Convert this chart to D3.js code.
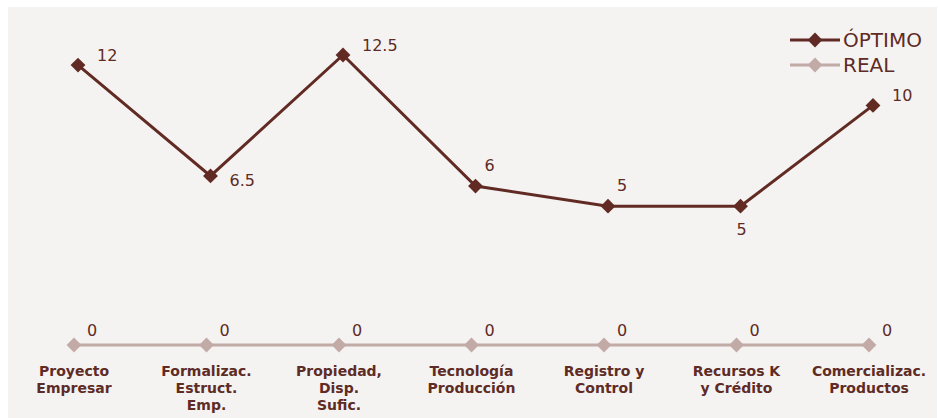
<!DOCTYPE html>
<html>
<head>
<meta charset="utf-8">
<script src="https://cdn.jsdelivr.net/npm/d3@7"></script>
<style>
  body { margin: 0; background: #ffffff; }
  svg text { font-family: "DejaVu Sans", Verdana, sans-serif; }
</style>
</head>
<body>
<div id="chart"></div>
<script>
// data
var categories = [
    ["Proyecto", "Empresar"],
    ["Formalizac.", "Estruct.", "Emp."],
    ["Propiedad,", "Disp.", "Sufic."],
    ["Tecnología", "Producción"],
    ["Registro y", "Control"],
    ["Recursos K", "y Crédito"],
    ["Comercializac.", "Productos"]
];
var optimo = [12, 6.5, 12.5, 6, 5, 5, 10];
var real = [0, 0, 0, 0, 0, 0, 0];
// where the optimo value labels sit (as in the original)
var optimoLabelSide = ["right", "right", "right", "above", "above", "below", "right"];

var W = 938, H = 418;
var dark = "#612b24", light = "#c2aba6", textCol = "#5e2b25";

var svg = d3.select("#chart").append("svg")
    .attr("width", W)
    .attr("height", H);

// plot background
svg.append("rect")
    .attr("x", 8).attr("y", 7)
    .attr("width", 929).attr("height", H - 7)
    .attr("fill", "#f5f3f2");

var idx = d3.range(categories.length);

var x = d3.scalePoint()
    .domain(idx)
    .range([74, 869]);

// primary axis for ÓPTIMO, secondary for REAL (they do not share zero)
var y = d3.scaleLinear().domain([0, 12.5]).range([307, 55]);
var y2 = d3.scaleLinear().domain([0, 1]).range([345, 305]);

var diamond = d3.symbol().type(d3.symbolDiamond2).size(140);

// REAL series
svg.append("path")
    .datum(real)
    .attr("fill", "none")
    .attr("stroke", light)
    .attr("stroke-width", 3)
    .attr("d", d3.line().x(function(d, i) { return x(i); }).y(function(d) { return y2(d); }));

svg.selectAll(".real-pt")
    .data(real)
    .enter().append("path")
    .attr("class", "real-pt")
    .attr("d", diamond)
    .attr("fill", light)
    .attr("transform", function(d, i) { return "translate(" + x(i) + "," + y2(d) + ")"; });

svg.selectAll(".real-lbl")
    .data(real)
    .enter().append("text")
    .attr("class", "real-lbl")
    .attr("x", function(d, i) { return x(i) + 18; })
    .attr("y", function(d) { return y2(d) - 9; })
    .attr("text-anchor", "middle")
    .attr("font-size", 16)
    .attr("fill", textCol)
    .text(function(d) { return d; });

// ÓPTIMO series
var ox = function(i) { return x(i) + 4; };

svg.append("path")
    .datum(optimo)
    .attr("fill", "none")
    .attr("stroke", dark)
    .attr("stroke-width", 3)
    .attr("d", d3.line().x(function(d, i) { return ox(i); }).y(function(d) { return y(d); }));

svg.selectAll(".opt-pt")
    .data(optimo)
    .enter().append("path")
    .attr("class", "opt-pt")
    .attr("d", diamond)
    .attr("fill", dark)
    .attr("transform", function(d, i) { return "translate(" + ox(i) + "," + y(d) + ")"; });

svg.selectAll(".opt-lbl")
    .data(optimo)
    .enter().append("text")
    .attr("class", "opt-lbl")
    .attr("x", function(d, i) {
        var s = optimoLabelSide[i];
        if (s == "right") return ox(i) + 19;
        if (s == "below") return ox(i) + 1;
        return ox(i) + 14;
    })
    .attr("y", function(d, i) {
        var s = optimoLabelSide[i];
        if (s == "above") return y(d) - 15;
        if (s == "below") return y(d) + 29;
        return y(d) + (d < 8 ? 10 : -4);
    })
    .attr("text-anchor", function(d, i) { return optimoLabelSide[i] == "right" ? "start" : "middle"; })
    .attr("font-size", 16)
    .attr("fill", textCol)
    .text(function(d) { return d; });

// category labels
var cat = svg.selectAll(".cat")
    .data(categories)
    .enter().append("text")
    .attr("class", "cat")
    .attr("text-anchor", "middle")
    .attr("font-size", 14)
    .attr("font-weight", "bold")
    .attr("fill", textCol);

cat.selectAll("tspan")
    .data(function(d, i) { return d.map(function(t) { return {t: t, i: i}; }); })
    .enter().append("tspan")
    .attr("x", function(d) { return x(d.i); })
    .attr("y", function(d, j) { return 376 + j * 17; })
    .text(function(d) { return d.t; });

// legend
var legend = [
    {name: "ÓPTIMO", color: dark},
    {name: "REAL", color: light}
];
var lg = svg.selectAll(".legend")
    .data(legend)
    .enter().append("g")
    .attr("class", "legend")
    .attr("transform", function(d, i) { return "translate(790," + (40 + i * 25) + ")"; });

lg.append("line")
    .attr("x1", 0).attr("x2", 50)
    .attr("stroke", function(d) { return d.color; })
    .attr("stroke-width", 3);

lg.append("path")
    .attr("d", diamond)
    .attr("fill", function(d) { return d.color; })
    .attr("transform", "translate(25,0)");

lg.append("text")
    .attr("x", 53)
    .attr("y", 7)
    .attr("font-size", 20)
    .attr("fill", textCol)
    .text(function(d) { return d.name; });
</script>
</body>
</html>
